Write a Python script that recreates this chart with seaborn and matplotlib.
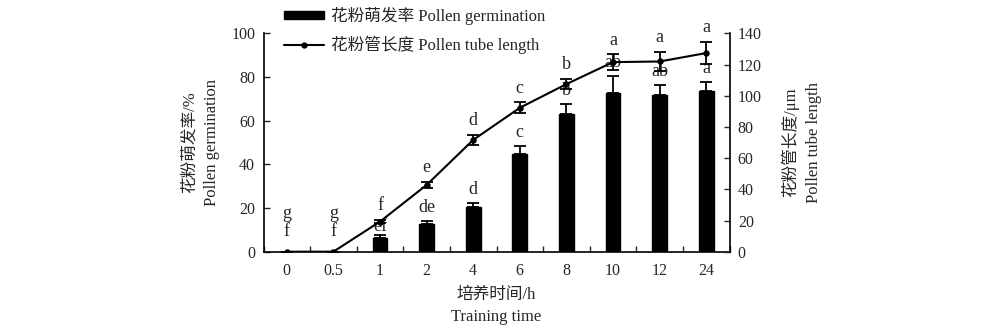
import numpy as np
import pandas as pd
import matplotlib
matplotlib.use("Agg")
import matplotlib.pyplot as plt
import seaborn as sns
from matplotlib.lines import Line2D
from matplotlib.patches import Patch

# ---- data ----
times = ["0", "0.5", "1", "2", "4", "6", "8", "10", "12", "24"]
germination = [0, 0, 6.4, 12.6, 20.4, 44.8, 63.2, 72.7, 71.6, 73.7]
germination_err = [0, 0, 1.3, 1.5, 1.8, 3.6, 4.6, 8.0, 4.9, 4.0]
germ_letters = ["f", "f", "ef", "de", "d", "c", "b", "ab", "ab", "a"]
tube_length = [0, 0, 19.3, 42.8, 71.7, 92.3, 107.5, 121.6, 122.0, 127.4]
tube_err = [0, 0, 1.0, 1.9, 3.2, 3.5, 3.4, 5.0, 6.4, 7.3]
tube_letters = ["g", "g", "f", "e", "d", "c", "b", "a", "a", "a"]
left_ticks = [0, 20, 40, 60, 80, 100]
right_ticks = [0, 20, 40, 60, 80, 100, 120, 140]

sns.set_theme(style="white")
FAM = ["Liberation Serif", "Noto Sans CJK SC"]
plt.rcParams["font.family"] = FAM
plt.rcParams["axes.unicode_minus"] = False
TFS = 11.5   # tick labels
LFS = 12     # axis labels / legend
AFS = 13     # significance letters

df = pd.DataFrame({"time": times, "germ": germination, "tube": tube_length})

fig = plt.figure(figsize=(10, 3.31), dpi=100)
ax = fig.add_axes([0.2635, 0.2396, 0.466, 0.6594])
sns.barplot(data=df, x="time", y="germ", color="black", width=0.32,
            saturation=1, ax=ax, errorbar=None)
for p in ax.patches:
    p.set_facecolor("black")
    p.set_edgecolor("black")
xpos = np.arange(len(times))
ax.errorbar(xpos, germination, yerr=[np.zeros(len(times)), germination_err],
            fmt="none", ecolor="black", elinewidth=1.3, capsize=4, capthick=1.3)
ax.set_ylim(0, 100)
ax.set_xlim(-0.5, len(times) - 0.5)
ax.set_yticks(left_ticks)
ax.set_yticklabels([str(t) for t in left_ticks], fontsize=TFS)
ax.set_xticks(xpos)
ax.set_xticklabels(times, fontsize=TFS)
ax.tick_params(axis="x", length=0, pad=8)
ax.tick_params(axis="y", direction="in", length=4, width=1, pad=6, left=True)
ax.set_xticks(np.arange(len(times) + 1) - 0.5, minor=True)
ax.tick_params(axis="x", which="minor", direction="in", length=4, width=1, bottom=True)
for s in ["top", "right"]:
    ax.spines[s].set_visible(False)
for s in ["left", "bottom"]:
    ax.spines[s].set_color("black")
    ax.spines[s].set_linewidth(1.2)
ax.set_xlabel("培养时间/h\nTraining time", fontsize=LFS, labelpad=5.5, linespacing=1.55)
ax.set_ylabel("花粉萌发率/%\nPollen germination", fontsize=LFS, labelpad=8, linespacing=1.55)

# bar letters
for i, (v, e, lab) in enumerate(zip(germination, germination_err, germ_letters)):
    y = v + e
    if v == 0:
        off = 8.5
    elif i == 2:
        off = 0
    else:
        off = 3.5
    ax.annotate(lab, (i, y), xytext=(0, off), textcoords="offset points",
                ha="center", va="bottom", fontsize=AFS)

ax2 = ax.twinx()
sns.pointplot(data=df, x="time", y="tube", color="black", markers="o",
              markersize=3.5, linewidth=1.5, ax=ax2, errorbar=None)
ax2.errorbar(xpos, tube_length, yerr=tube_err, fmt="none", ecolor="black",
             elinewidth=1.3, capsize=4, capthick=1.3)
ax2.set_ylim(0, 140)
ax2.set_xlim(-0.5, len(times) - 0.5)
ax2.set_yticks(right_ticks)
ax2.set_yticklabels([str(t) for t in right_ticks], fontsize=TFS)
ax2.tick_params(axis="y", direction="in", length=4, width=1, pad=6, right=True)
for s in ["top", "left", "bottom"]:
    ax2.spines[s].set_visible(False)
ax2.spines["right"].set_color("black")
ax2.spines["right"].set_linewidth(1.2)
ax2.set_ylabel("花粉管长度/μm\nPollen tube length", fontsize=LFS, labelpad=14,
               linespacing=1.55, rotation=90)
ax2.yaxis.set_label_position("right")

for i, (v, e, lab) in enumerate(zip(tube_length, tube_err, tube_letters)):
    y = v + e
    off = 4 if v > 0 else 21.5
    ax2.annotate(lab, (i, y), xytext=(0, off), textcoords="offset points",
                 ha="center", va="bottom", fontsize=AFS)

handles = [Patch(facecolor="black", edgecolor="black"),
           Line2D([0], [0], color="black", lw=1.5, marker="o", markersize=3.5)]
labels = ["花粉萌发率 Pollen germination", "花粉管长度 Pollen tube length"]
fig.legend(handles, labels, loc="upper left", bbox_to_anchor=(0.269, 1.025),
           frameon=False, fontsize=LFS, handlelength=2.4, handleheight=0.35,
           labelspacing=0.65, handletextpad=0.4)

fig.savefig("out.png", dpi=100)
